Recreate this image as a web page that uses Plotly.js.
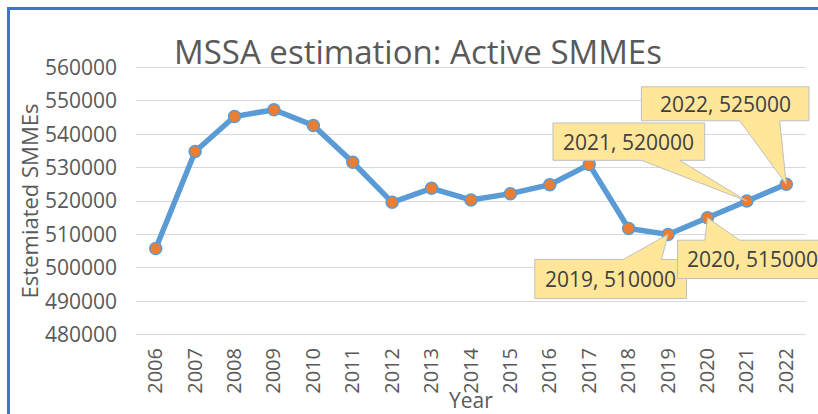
<!DOCTYPE html>
<html>
<head>
<meta charset="utf-8">
<script src="https://cdn.plot.ly/plotly-3.0.1.min.js"></script>
<style>
  html, body { margin: 0; padding: 0; background: #ffffff; overflow: hidden; }
  #wrap { position: relative; width: 818px; height: 414px; overflow: hidden; }
  #chart { position: absolute; left: 0; top: 0; width: 818px; height: 414px; }
  #frame { position: absolute; left: 7px; top: 7px; width: 900px; height: 500px;
           border-left: 3px solid #4472C4; border-top: 3px solid #4472C4; pointer-events: none; }
</style>
</head>
<body>
<div id="wrap">
  <div id="chart"></div>
  <div id="frame"></div>
</div>
<script>
// ---- data ----
const years = [2006, 2007, 2008, 2009, 2010, 2011, 2012, 2013, 2014, 2015, 2016, 2017, 2018, 2019, 2020, 2021, 2022];
const smmes = [505800, 534800, 545300, 547300, 542600, 531600, 519600, 523800, 520300, 522200, 524900, 530900, 511800, 510000, 515000, 520000, 525000];
const labelledYears = [2019, 2020, 2021, 2022];
const chartTitle = 'MSSA estimation: Active SMMEs';
const xTitle = 'Year';
const yTitle = 'Estemiated SMMEs';

// ---- styles ----
const FONT = 'Open Sans, Liberation Sans, Arial, sans-serif';
const TEXT = '#595959';
// callout geometry in screen pixels relative to the data point: box [l, r, t, b], wedge base [a, b]
const calloutStyle = {
  2019: { box: [-133.3, 18.4, 25.1, 64.1], wedge: [-45, -6.6] },
  2020: { box: [-30, 121, 22.5, 60.8], wedge: [-2.7, 32.3] },
  2021: { box: [-193.9, -42.2, -78, -40.7], wedge: [-105.5, -67.2] },
  2022: { box: [-144.9, 22.7, -97.5, -63.5], wedge: [-46.6, -6.6] }
};

function calloutPath(st) {
  const [l, r, t, b] = st.box;
  const [wa, wb] = st.wedge;
  let pts;
  if (t > 0) { // box below the point, wedge on top edge
    pts = [[l, t], [wa, t], [0, 0], [wb, t], [r, t], [r, b], [l, b]];
  } else {     // box above the point, wedge on bottom edge
    pts = [[l, t], [r, t], [r, b], [wb, b], [0, 0], [wa, b], [l, b]];
  }
  // plotly pixel sizemode: y positive is up
  return 'M' + pts.map(p => p[0] + ',' + (-p[1])).join('L') + 'Z';
}

const trace = {
  x: years, y: smmes, type: 'scatter', mode: 'lines+markers',
  line: { color: '#5B9BD5', width: 5.5 },
  marker: { color: '#ED7D31', size: 12, line: { color: '#5B9BD5', width: 1.5 } },
  hoverinfo: 'x+y'
};

const annotations = labelledYears.map(yr => {
  const v = smmes[years.indexOf(yr)];
  const st = calloutStyle[yr];
  return {
    xref: 'x', yref: 'y', x: yr, y: v,
    text: yr + ', ' + v, showarrow: false,
    xshift: (st.box[0] + st.box[1]) / 2,
    yshift: -(st.box[2] + st.box[3]) / 2,
    font: { family: FONT, size: 21, color: '#404040' }
  };
});
// x-axis title, placed overlapping the tick labels as in the original
annotations.push({
  xref: 'paper', yref: 'paper', x: 0.5, y: -64 / 270, xanchor: 'center', yanchor: 'middle',
  text: xTitle, showarrow: false, font: { family: FONT, size: 21, color: TEXT }
});

const layout = {
  width: 818, height: 414,
  margin: { l: 136, r: 12, t: 66, b: 78 },
  paper_bgcolor: '#ffffff', plot_bgcolor: '#ffffff',
  showlegend: false,
  title: { text: chartTitle, font: { family: FONT, size: 33, color: TEXT },
           x: 418 / 818, xanchor: 'center', y: 1 - 52 / 414, yanchor: 'middle' },
  xaxis: {
    range: [2005.5, 2022.5], tickmode: 'array', tickvals: years, ticktext: years.map(String),
    tickangle: -90, showgrid: false, zeroline: false, showline: false, ticks: '',
    ticklabelstandoff: 7,
    tickfont: { family: FONT, size: 20, color: TEXT }
  },
  yaxis: {
    range: [479600, 560400], dtick: 10000, tick0: 480000, tickformat: 'd',
    showgrid: true, gridcolor: '#D9D9D9', gridwidth: 1, zeroline: false, showline: false, ticks: '',
    tickfont: { family: FONT, size: 21, color: TEXT },
    ticklabelstandoff: 18,
    title: { text: yTitle, font: { family: FONT, size: 22, color: TEXT }, standoff: 0 }
  },
  annotations: annotations
};

const gd = document.getElementById('chart');
Plotly.newPlot(gd, [trace], layout, { displayModeBar: false, staticPlot: true }).then(() => {
  const xa = gd._fullLayout.xaxis;
  const shapes = labelledYears.map(yr => ({
    type: 'path', layer: 'above',
    xref: 'x domain', yref: 'y',
    xsizemode: 'pixel', ysizemode: 'pixel',
    xanchor: xa.l2p(yr) / xa._length,
    yanchor: smmes[years.indexOf(yr)],
    path: calloutPath(calloutStyle[yr]),
    fillcolor: '#FFE699', line: { color: '#BFBFBF', width: 1 }
  }));
  return Plotly.relayout(gd, { shapes: shapes });
});
</script>
</body>
</html>
